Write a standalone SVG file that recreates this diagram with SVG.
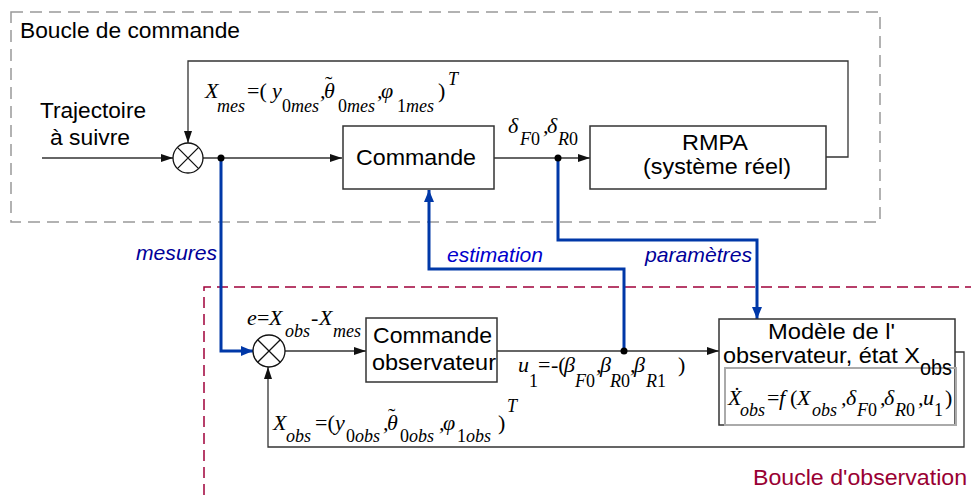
<svg xmlns="http://www.w3.org/2000/svg" width="971" height="495" viewBox="0 0 971 495">
<defs>
<style>
.ln{fill:none;stroke:#333;stroke-width:1.3}
.bl{fill:none;stroke:#0038a8;stroke-width:3}
.box{fill:#fff;stroke:#333;stroke-width:1.5}
.t{font-family:"Liberation Sans",Arial,sans-serif;font-size:22px;fill:#000}
.lab{font-family:"Liberation Sans",Arial,sans-serif;font-size:21px;font-style:italic}
.m{font-family:"Liberation Serif","Times New Roman",serif;font-style:italic;font-size:22px;fill:#000}
.s{font-size:18px}
.n{font-style:normal}
.tl{font-family:"Liberation Serif","Times New Roman",serif;font-size:22px;fill:#000}
</style>
<marker id="ah" viewBox="0 0 12 8" refX="12" refY="4" markerWidth="12" markerHeight="8" markerUnits="userSpaceOnUse" orient="auto"><path d="M0,0 L12,4 L0,8 z" fill="#111"/></marker>
<marker id="bh" viewBox="0 0 12 10" refX="12" refY="5" markerWidth="12" markerHeight="10" markerUnits="userSpaceOnUse" orient="auto"><path d="M0,0 L12,5 L0,10 z" fill="#0038a8"/></marker>
</defs>
<rect width="971" height="495" fill="#fff"/>

<g id="boucle-commande">
<rect x="11" y="12" width="869" height="210" fill="none" stroke="#999" stroke-width="1.5" stroke-dasharray="12,7"/>
<text class="t" x="20" y="38" textLength="220" lengthAdjust="spacingAndGlyphs">Boucle de commande</text>
</g>
<g id="boucle-observation">
<path d="M204,495 V287 H975" fill="none" stroke="#a0003a" stroke-width="1.5" stroke-dasharray="11,6"/>
<text class="t" x="753" y="485" style="fill:#990033" textLength="214" lengthAdjust="spacingAndGlyphs">Boucle d'observation</text>
</g>

<g id="connectors">
<path class="ln" d="M42,158 H173" marker-end="url(#ah)"/>
<path class="ln" d="M203,158 H342" marker-end="url(#ah)"/>
<path class="ln" d="M493,158 H590" marker-end="url(#ah)"/>
<path class="ln" d="M826,157 H848 V61 H188 V143" marker-end="url(#ah)"/>
<path class="ln" d="M285,351 H366" marker-end="url(#ah)"/>
<path class="ln" d="M497,351 H719" marker-end="url(#ah)"/>
<path class="ln" d="M955,352 H964 V447 H268 V367" marker-end="url(#ah)"/>
<path class="bl" d="M221,158 V351 H253" marker-end="url(#bh)"/>
<path class="bl" d="M624,351 V269 H429 V190" marker-end="url(#bh)"/>
<path class="bl" d="M558,158 V240 H757 V319" marker-end="url(#bh)"/>
<circle cx="221" cy="158" r="3.5" fill="#000"/>
<circle cx="558" cy="158" r="3.5" fill="#000"/>
<circle cx="624" cy="351" r="3.5" fill="#000"/>
<text class="lab" x="136" y="260" fill="#000099" textLength="81" lengthAdjust="spacingAndGlyphs">mesures</text>
<text class="lab" x="447" y="262" fill="#0000cc" textLength="96" lengthAdjust="spacingAndGlyphs">estimation</text>
<text class="lab" x="645" y="262" fill="#000099" textLength="107" lengthAdjust="spacingAndGlyphs">paramètres</text>
</g>

<g id="input">
<text class="t" x="40" y="118" textLength="106" lengthAdjust="spacingAndGlyphs">Trajectoire</text>
<text class="t" x="50" y="145" textLength="80" lengthAdjust="spacingAndGlyphs">à suivre</text>
</g>

<g id="sum1">
<circle cx="188" cy="158" r="15" fill="#fff" stroke="#111" stroke-width="1.3"/>
<path class="ln" d="M177.4,147.4 L198.6,168.6 M198.6,147.4 L177.4,168.6" style="stroke:#111"/>
</g>

<g id="xmes-label">
<text class="m"><tspan x="205" y="98">X</tspan><tspan class="s" x="217" y="112">mes</tspan><tspan x="247" y="98" class="n">=(</tspan><tspan x="272" y="98">y</tspan><tspan class="s" x="282" y="112"><tspan class="n">0</tspan>mes</tspan><tspan x="320" y="98">,</tspan><tspan x="324" y="98">θ</tspan><tspan class="s" x="338" y="112"><tspan class="n">0</tspan>mes</tspan><tspan x="377" y="98">,</tspan><tspan x="381" y="98">φ</tspan><tspan class="s" x="397" y="112"><tspan class="n">1</tspan>mes</tspan><tspan x="438" y="98" class="n">)</tspan><tspan class="s" x="448" y="85">T</tspan></text>
<text class="tl" x="325" y="91">˜</text>
</g>

<g id="commande">
<rect class="box" x="343" y="126" width="151" height="63"/>
<text class="t" x="356" y="165" textLength="120" lengthAdjust="spacingAndGlyphs">Commande</text>
</g>

<g id="delta-label">
<text class="m"><tspan x="508" y="133">δ</tspan><tspan class="s" x="520" y="145">F<tspan class="n">0</tspan></tspan><tspan x="543" y="133">,</tspan><tspan x="547" y="133">δ</tspan><tspan class="s" x="558" y="145">R<tspan class="n">0</tspan></tspan></text>
</g>

<g id="rmpa">
<rect class="box" x="590" y="126" width="236" height="63"/>
<text class="t" x="682" y="150" textLength="66" lengthAdjust="spacingAndGlyphs">RMPA</text>
<text class="t" x="643" y="174" textLength="148" lengthAdjust="spacingAndGlyphs">(système réel)</text>
</g>

<g id="sum2">
<circle cx="269" cy="351" r="16" fill="#fff" stroke="#111" stroke-width="1.3"/>
<path class="ln" d="M257.7,339.7 L280.3,362.3 M280.3,339.7 L257.7,362.3" style="stroke:#111"/>
</g>

<g id="e-label">
<text class="m"><tspan x="247" y="325">e</tspan><tspan class="n" x="257" y="325">=</tspan><tspan x="269" y="325">X</tspan><tspan class="s" x="285" y="337">obs</tspan><tspan x="311" y="325" class="n">-</tspan><tspan x="319" y="325">X</tspan><tspan class="s" x="333" y="337">mes</tspan></text>
</g>

<g id="commande-observateur">
<rect class="box" x="366" y="318" width="131" height="64"/>
<text class="t" x="373" y="343" textLength="119" lengthAdjust="spacingAndGlyphs">Commande</text>
<text class="t" x="372" y="370" textLength="124" lengthAdjust="spacingAndGlyphs">observateur</text>
</g>

<g id="u1-label">
<text class="m"><tspan x="518" y="372">u</tspan><tspan class="s n" x="529" y="387">1</tspan><tspan x="538" y="372" class="n">=</tspan><tspan x="551" y="372" class="n">-(</tspan><tspan x="564" y="372">β</tspan><tspan class="s" x="575" y="387">F<tspan class="n">0</tspan></tspan><tspan x="596" y="372">,</tspan><tspan x="600" y="372">β</tspan><tspan class="s" x="610" y="387">R<tspan class="n">0</tspan></tspan><tspan x="630" y="372">,</tspan><tspan x="634" y="372">β</tspan><tspan class="s" x="646" y="387">R<tspan class="n">1</tspan></tspan><tspan x="678" y="372" class="n">)</tspan></text>
</g>

<g id="xobs-label">
<text class="m"><tspan x="273" y="430">X</tspan><tspan class="s" x="286" y="442">obs</tspan><tspan x="315" y="430" class="n">=(</tspan><tspan x="335" y="430">y</tspan><tspan class="s" x="346" y="442"><tspan class="n">0</tspan>obs</tspan><tspan x="383" y="430">,</tspan><tspan x="387" y="430">θ</tspan><tspan class="s" x="400" y="442"><tspan class="n">0</tspan>obs</tspan><tspan x="439" y="430">,</tspan><tspan x="443" y="430">φ</tspan><tspan class="s" x="457" y="442"><tspan class="n">1</tspan>obs</tspan><tspan x="498" y="430" class="n">)</tspan><tspan class="s" x="507" y="412">T</tspan></text>
<text class="tl" x="388" y="423">˜</text>
</g>

<g id="modele">
<rect class="box" x="719" y="319" width="236" height="106"/>
<rect x="725" y="368" width="231" height="57" fill="none" stroke="#aaa" stroke-width="2"/>
<text class="t" x="768" y="339" textLength="127" lengthAdjust="spacingAndGlyphs">Modèle de l'</text>
<text class="t" x="723" y="363" textLength="197" lengthAdjust="spacingAndGlyphs">observateur, état X</text>
<text class="t" x="920" y="375" textLength="32" lengthAdjust="spacingAndGlyphs">obs</text>
<text class="m"><tspan x="728" y="405">X&#x307;</tspan><tspan class="s" x="740" y="416">obs</tspan><tspan x="767" y="405" class="n">=</tspan><tspan x="779" y="405">f</tspan><tspan x="790" y="405" class="n">(</tspan><tspan x="797" y="405">X</tspan><tspan class="s" x="812" y="416">obs</tspan><tspan x="841" y="405">,</tspan><tspan x="846" y="405">δ</tspan><tspan class="s" x="857" y="416">F<tspan class="n">0</tspan></tspan><tspan x="880" y="405">,</tspan><tspan x="884" y="405">δ</tspan><tspan class="s" x="895" y="416">R<tspan class="n">0</tspan></tspan><tspan x="918" y="405">,</tspan><tspan x="923" y="405">u</tspan><tspan class="s n" x="934" y="416">1</tspan><tspan x="945" y="405" class="n">)</tspan></text>
</g>
</svg>
